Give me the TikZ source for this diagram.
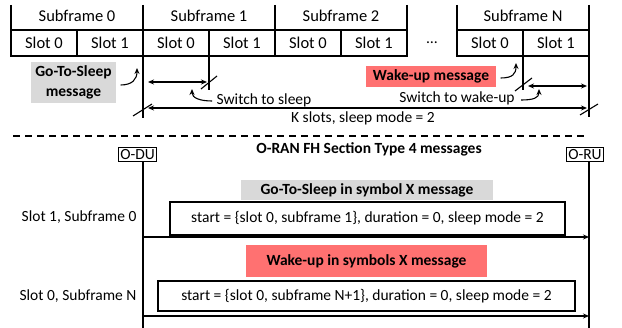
\documentclass[tikz,border=0pt]{standalone}
\usepackage{fontspec}
\setmainfont{Carlito}
\usetikzlibrary{arrows.meta,positioning}
\definecolor{sleepgray}{RGB}{217,217,217}
\definecolor{wakered}{RGB}{255,113,113}

\begin{document}
\begin{tikzpicture}[x=1pt,y=-1pt, >={Stealth[length=6pt,width=5pt]},
      line width=1.1pt,
      every node/.style={font=\fontsize{15.5}{20}\selectfont,inner sep=0},
      slot/.style={draw,outer sep=0,minimum width=66pt,minimum height=26pt,font=\fontsize{16.5}{20}\selectfont},
      sf/.style={font=\fontsize{16.5}{20}\selectfont},
      ent/.style={draw,line width=0.9pt,inner xsep=2pt,inner ysep=1.5pt},
      msg/.style={draw,line width=1.3pt},
      sleepbox/.style={fill=sleepgray,font=\fontsize{15.5}{20}\selectfont\bfseries},
      wakebox/.style={fill=wakered,font=\fontsize{15.5}{20}\selectfont\bfseries},
      len/.style={<->,shorten <=5pt,shorten >=2pt},
      sep/.style={dash pattern=on 7pt off 5pt,line width=1.2pt} ]
      \useasboundingbox (0,0) rectangle (622,328);

      % slots
      \foreach \i in {0,1,2} {
        \node[slot] (a\i) at (44+132*\i,43) {Slot 0};
        \node[slot] (b\i) at (110+132*\i,43) {Slot 1};
        \node[sf] (h\i) at (77+132*\i,16) {Subframe \i};
      }
      \node[slot] (aN) at (490,43) {Slot 0};
      \node[slot] (bN) at (556,43) {Slot 1};
      \node[sf] (hN) at (523,16) {Subframe N};
      \node (dots) at (432,43) {\dots};

      \foreach \x in {11,143,275,407,457,589}
        \draw (\x,5) -- (\x,30);
      \draw (a0.north west) -- (b2.north east);
      \draw (aN.north west) -- (bN.north east);
      \draw (a1.south west) -- ++(0,62);
      \draw (b1.south west) -- ++(0,34);
      \draw (bN.south west) -- ++(0,34);
      \draw (bN.south east) -- ++(0,61);

      % lengths
      \coordinate (gs0) at (143,82);
      \coordinate (gs1) at (209,82);
      \coordinate (wu0) at (523,86);
      \coordinate (wu1) at (589,86);
      \coordinate (k0) at (143,108);
      \coordinate (k1) at (589,108);
      \draw [len] (gs0) to (gs1);
      \draw [len] (wu0) to (wu1);
      \draw [len] (k0) to (k1);

      \draw ([shift={(-8,7)}]gs1) -- ([shift={(8,-6)}]gs1);
      \draw ([shift={(-8,5)}]wu0) -- ([shift={(9,-8)}]wu0);
      \draw ([shift={(-10,8)}]k0) -- ([shift={(9,-4)}]k0);
      \draw ([shift={(-9,7)}]k1) -- ([shift={(9,-4)}]k1);

      % labels
      \node[sleepbox,minimum width=85pt,minimum height=41pt,align=center] (gts) at (73.5,82.5) {Go-To-Sleep\\message};
      \node[wakebox,minimum width=130pt,minimum height=21pt] (wum) at (431,76.5) {Wake-up message};
      \node (sws) at (264,100) {Switch to sleep};
      \node (swu) at (457,98) {Switch to wake-up};
      \node (ks) at (363,118) {K slots, sleep mode = 2};

      \coordinate (gtstip) at (137,68);
      \coordinate (wumtip) at (516,63);
      \coordinate (swstip) at (192,89);
      \coordinate (swutip) at (539,89);
      \draw[->] ([shift={(4,2.5)}]gts.east) .. controls +(12,0) and +(0,11) .. (gtstip);
      \draw[->] ([shift={(4,1.5)}]wum.east) .. controls +(12,0) and +(0,11) .. (wumtip);
      \draw[->] ([shift={(-4,1)}]sws.west) .. controls +(-12,0) and +(0,9) .. (swstip);
      \draw[->] ([shift={(6,2)}]swu.east) .. controls +(12,0) and +(0,9) .. (swutip);

      % separator
      \coordinate (s0) at (13,136);
      \coordinate (s1) at (587,136);
      \draw [sep] (s0) -- (s1);

      % messages
      \node[ent] (odu) at (137.5,154.5) {O-DU};
      \node[ent] (oru) at (585,154.5) {O-RU};
      \node[font=\fontsize{15.5}{20}\selectfont\bfseries] (title) at (369,149) {O-RAN FH Section Type 4 messages};
      \coordinate (duend) at (143,328);
      \coordinate (ruend) at (589,328);
      \draw (odu.south -| duend) -- (duend);
      \draw (oru.south -| ruend) -- (ruend);

      \node[sleepbox,minimum width=252pt,minimum height=20pt] (gtsx) at (367,190) {Go-To-Sleep in symbol X message};
      \node[msg,minimum width=395pt,minimum height=33pt] (m1) at (367.5,218.5) {start = \{slot 0, subframe 1\}, duration = 0, sleep mode = 2};
      \node[anchor=east] (t1) at (137,217) {Slot 1, Subframe 0};

      \node[wakebox,minimum width=241pt,minimum height=32pt] (wusx) at (366.5,261) {Wake-up in symbols X message};
      \node[msg,minimum width=417pt,minimum height=30pt] (m2) at (366.5,296) {start = \{slot 0, subframe N+1\}, duration = 0, sleep mode = 2};
      \node[anchor=east] (t2) at (137,296) {Slot 0, Subframe N};

      \coordinate (du1) at (143,237);
      \coordinate (ru1) at (589,237);
      \coordinate (du2) at (143,316);
      \coordinate (ru2) at (589,316);
      \draw[->] (du1) -- (ru1);
      \draw[->] (du2) -- (ru2);
    \end{tikzpicture}
\end{document}
